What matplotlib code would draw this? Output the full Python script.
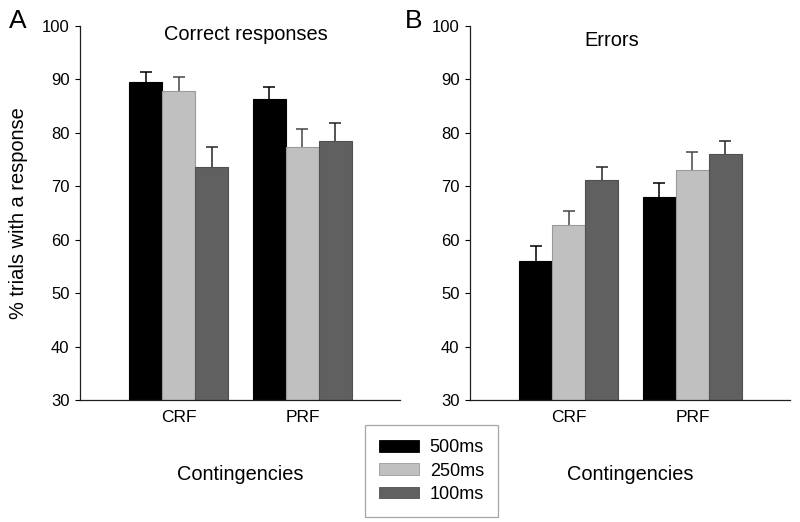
import matplotlib
matplotlib.use("Agg")
import matplotlib.pyplot as plt
import numpy as np
from matplotlib.patches import Patch

plt.rcParams['font.family'] = ['Liberation Sans', 'DejaVu Sans']

categories = ["CRF", "PRF"]
series = ["500ms", "250ms", "100ms"]
correct_means = {"500ms": [89.5, 86.3], "250ms": [87.8, 77.3], "100ms": [73.7, 78.5]}
correct_err = {"500ms": [1.8, 2.3], "250ms": [2.6, 3.5], "100ms": [3.7, 3.3]}
errors_means = {"500ms": [56.1, 68.0], "250ms": [62.7, 73.1], "100ms": [71.1, 76.1]}
errors_err = {"500ms": [2.7, 2.7], "250ms": [2.7, 3.3], "100ms": [2.6, 2.4]}

colors = {"500ms": "#000000", "250ms": "#c0c0c0", "100ms": "#606060"}
edges = {"500ms": "#000000", "250ms": "#9a9a9a", "100ms": "#505050"}
errcol = {"500ms": "#000000", "250ms": "#454545", "100ms": "#252525"}

fig = plt.figure(figsize=(8, 5.22), dpi=100)
axA = fig.add_axes([0.1, 0.2337, 0.4, 0.7165])
axB = fig.add_axes([0.5875, 0.2337, 0.4, 0.7165])

width = 0.267
x = np.arange(1, len(categories) + 1)

def draw(ax, means, errs, title, tx, ty, letter, lx):
    for i, s in enumerate(series):
        xs = x + (i - 1) * width
        ax.bar(xs, means[s], width, bottom=0,
               color=colors[s], edgecolor=edges[s], linewidth=0.8, zorder=2)
        cont = ax.errorbar(xs, means[s], yerr=[[0] * len(categories), errs[s]],
                           fmt='none', ecolor=errcol[s], elinewidth=1.1,
                           capsize=4.3, capthick=1.1, zorder=1)
        for cl in cont.lines[1]:
            if np.allclose(cl.get_ydata(), means[s]):
                cl.set_visible(False)
    ax.set_xlim(0.2, 2.79)
    ax.set_ylim(30, 100)
    ax.set_yticks(range(30, 101, 10))
    ax.set_xticks(x)
    ax.set_xticklabels(categories, fontsize=12.5)
    ax.tick_params(axis='x', length=0, pad=7)
    ax.tick_params(axis='y', direction='out', length=3.6, width=0.8, labelsize=12, pad=4)
    for sp in ['top', 'right']:
        ax.spines[sp].set_visible(False)
    for sp in ['left', 'bottom']:
        ax.spines[sp].set_linewidth(0.9)
        ax.spines[sp].set_color('#202020')
        ax.spines[sp].set_zorder(3)
    ax.set_xlabel("Contingencies", fontsize=14.4, labelpad=29)
    fig.text(tx, ty, title, fontsize=14.4, ha='center', va='center')
    fig.text(lx, 1 - 21 / 522, letter, fontsize=19, ha='left', va='center')

draw(axA, correct_means, correct_err, "Correct responses", 246 / 800, 1 - 35 / 522, "A", 9 / 800)
draw(axB, errors_means, errors_err, "Errors", 612 / 800, 1 - 40 / 522, "B", 405 / 800)
axA.set_ylabel("% trials with a response", fontsize=14.4, labelpad=10)

handles = [Patch(facecolor=colors[s], edgecolor=edges[s], linewidth=0.6) for s in series]
leg = fig.legend(handles, series, loc='center', bbox_to_anchor=(431.5 / 800, 1 - 471 / 522),
                 fontsize=13, frameon=True, fancybox=False, handlelength=2.2,
                 handleheight=0.6, labelspacing=0.35, handletextpad=0.6,
                 borderpad=0.8, borderaxespad=0)
leg.get_frame().set_edgecolor('#909090')
leg.get_frame().set_linewidth(0.9)

fig.savefig("out.png", dpi=100)
